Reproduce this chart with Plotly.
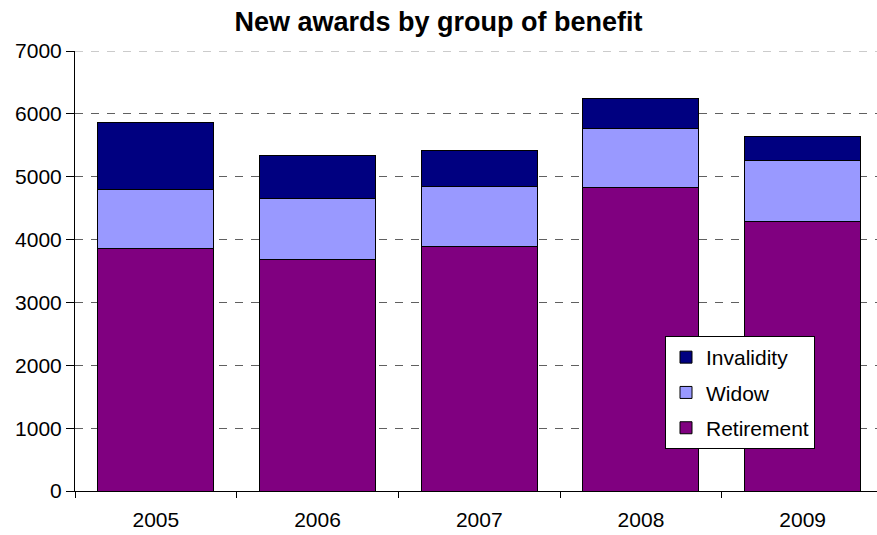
import plotly.graph_objects as go

years = ["2005", "2006", "2007", "2008", "2009"]
retirement = [3866, 3691, 3898, 4836, 4284]
widow = [938, 959, 943, 934, 982]
invalidity = [1062, 695, 573, 477, 371]

series = [
    ("Retirement", retirement, "#800080", 3),
    ("Widow", widow, "#9999FF", 2),
    ("Invalidity", invalidity, "#000080", 1),
]

FONT = "Liberation Sans, Arial, Helvetica, sans-serif"

fig = go.Figure()
for name, vals, col, rank in series:
    fig.add_trace(go.Bar(
        x=years, y=vals, name=name, legendgroup=name, legendrank=rank,
        marker=dict(color=col, line=dict(color="black", width=1)),
        width=0.717,
    ))

fig.update_layout(
    width=877, height=535,
    barmode="stack",
    plot_bgcolor="white", paper_bgcolor="white",
    margin=dict(l=75, r=0, t=51, b=44),
    font=dict(family=FONT, size=21, color="black"),
    title=dict(text="<b>New awards by group of benefit</b>", x=0.5, xanchor="center",
               y=1 - 22 / 535, yanchor="middle", font=dict(size=27, family=FONT, color="black")),
    showlegend=True,
    legend=dict(
        x=(665 - 75) / 802, xanchor="left",
        y=(491 - 336) / 440, yanchor="top",
        traceorder="grouped", tracegroupgap=5,
        bgcolor="white", bordercolor="black", borderwidth=1,
        font=dict(size=21, family=FONT, color="black"),
    ),
    bargap=0.283,
    shapes=[dict(type="line", xref="paper", yref="y", x0=0, x1=1, y0=7000, y1=7000,
                 line=dict(color="#a0a0a0", width=1, dash="8px,8px"), layer="below")],
)

fig.update_xaxes(
    type="category", range=[-0.5, -0.5 + 802 / 161.7],
    showline=True, linecolor="black", linewidth=1,
    ticks="outside", tickson="boundaries", ticklen=6, tickcolor="black",
    showgrid=False, tickfont=dict(size=21), ticklabelstandoff=10,
)
fig.update_yaxes(
    range=[0, 7001], dtick=1000, tick0=0,
    showline=True, linecolor="black", linewidth=1,
    ticks="outside", ticklen=8, tickcolor="black",
    showgrid=True, gridcolor="#606060", gridwidth=1, griddash="8px,8px",
    tickfont=dict(size=21), zeroline=False,
)

fig.write_html("out.html", config={"displayModeBar": False},
               post_script="document.body.style.margin='0';document.body.style.padding='0';")
